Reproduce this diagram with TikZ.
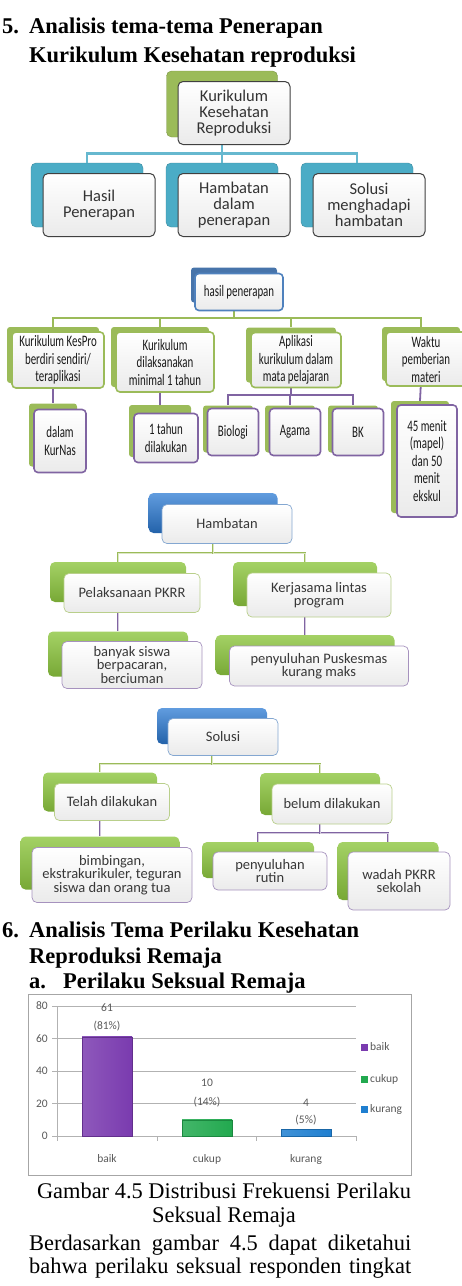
\documentclass[tikz,border=0pt]{standalone}
\usepackage{fontspec}
\setmainfont{Liberation Serif}
\newfontfamily\boxfont{Carlito}
\newfontfamily\narrowfont[FakeStretch=0.68]{Carlito}

\definecolor{olivegreen}{HTML}{9BBB59}
\definecolor{skyteal}{HTML}{4BACC6}
\definecolor{steelblue}{HTML}{4F81BD}
\definecolor{lilac}{HTML}{8064A2}
\definecolor{brightblue}{HTML}{2C7BD4}
\definecolor{limegreen}{HTML}{8DC63F}
\definecolor{barpurple}{HTML}{7A3BAF}
\definecolor{bargreen}{HTML}{22A94F}
\definecolor{barblue}{HTML}{1F7FD0}

\begin{document}
\begin{tikzpicture}[x=1pt,y=-1pt]

	\tikzstyle heading=[anchor=base west, inner sep=0pt, font=\fontsize{22.5}{27}\selectfont\bfseries];
	\tikzstyle caption text=[anchor=base, inner sep=0pt, font=\fontsize{22.4}{24}\selectfont];
	\tikzstyle box=[rectangle, rounded corners=5pt, inner sep=1pt, align=center];
	\tikzstyle sheet=[box, top color=white, bottom color=black!8];
	\tikzstyle t1 back=[box, fill=skyteal, draw=skyteal!80!black, minimum width=112pt, minimum height=64pt];
	\tikzstyle t1 front=[sheet, draw=black!75, line width=1pt, minimum width=112pt, minimum height=63pt, text=black!80, font=\boxfont\fontsize{16.5}{16}\selectfont];
	\tikzstyle t1 link=[draw=skyteal!85!white, line width=2.6pt];
	\tikzstyle t2 back=[box, rounded corners=3pt, fill=olivegreen];
	\tikzstyle t2 front=[sheet, rounded corners=4pt, line width=1.6pt, text=black!90, font=\narrowfont\fontsize{16}{17.5}\selectfont];
	\tikzstyle t2 link=[line width=1.8pt];
	\tikzstyle t3 back=[box, top color=limegreen!80!white, bottom color=limegreen!85!black];
	\tikzstyle t3 front=[sheet, line width=0.7pt, text=black!78, font=\boxfont\fontsize{14.5}{13.5}\selectfont];
	\tikzstyle t3 link=[line width=0.6pt, double distance=0.9pt];
	\tikzstyle chart text=[inner sep=0pt, text=black!65, font=\boxfont\fontsize{11.5}{12}\selectfont];
	\tikzstyle grid line=[draw=black!30, line width=0.6pt];

	\useasboundingbox (0,0) rectangle (462,1286);

	% section 5
	\node[heading] (h5n) at (2,33) {5.};
	\node[heading] (h5a) at (29,33) {Analisis tema-tema Penerapan};
	\node[heading] (h5b) at (29,62) {Kurikulum Kesehatan reproduksi};

	% tree 1
	\node[t1 back, fill=olivegreen, draw=olivegreen!80!black, minimum width=111pt, minimum height=66pt] (kkr0) at (222,104) {};
	\foreach \n/\x in {hsl/87,hmb/222,sol/357}
		\node[t1 back] (\n0) at (\x,195) {};
	\foreach \n in {hsl,hmb,sol}
		\draw[t1 link] (kkr0.south) -- ++(0,16) -| (\n0.north);
	\node[t1 front] (kkr) at ([shift={(12,9)}]kkr0) {Kurikulum\\Kesehatan\\Reproduksi};
	\foreach \n/\t in {hsl/{Hasil\\Penerapan},hmb/{Hambatan\\dalam\\penerapan},sol/{Solusi\\menghadapi\\hambatan}}
		\node[t1 front] (\n) at ([shift={(12,10)}]\n0) {\t};

	% tree 2
	\node[t2 back, fill=steelblue!90!black, minimum width=86pt, minimum height=35pt] (hpn0) at (234,285) {};
	\foreach \n/\x/\y/\w/\h in {kes/53/355/92/56,lak/160/357/98/60,apl/291/355/90/55,wkt/421/354/78/54}
		\node[t2 back, minimum width=\w pt, minimum height=\h pt] (\n0) at (\x,\y) {};
	\node[t2 back, minimum width=48pt, minimum height=63pt] (kns0) at (53,435) {};
	\node[t2 back, minimum width=62pt, minimum height=52pt] (thn0) at (160,431) {};
	\foreach \n/\x in {bio/228,aga/290,bkk/353}
		\node[t2 back, minimum width=50pt, minimum height=47pt] (\n0) at (\x,429) {};
	\node[t2 back, minimum width=58pt, minimum height=112pt] (mnt0) at (420,457) {};

	\foreach \n in {kes,lak,apl,wkt}
		\draw[t2 link, olivegreen] (hpn0.south) -- ++(0,15) -| (\n0.north);
	\draw[t2 link, lilac] (kes0.south) -- (kns0.north);
	\draw[t2 link, lilac] (lak0.south) -- (thn0.north);
	\foreach \n in {bio,aga,bkk}
		\draw[t2 link, lilac] (apl0.south) -- ++(0,12) -| (\n0.north);
	\draw[t2 link, lilac] (wkt0.south) -- (mnt0.north);

	\node[t2 front, draw=steelblue, minimum width=88pt, minimum height=37pt] (hpn) at ([shift={(5,7)}]hpn0) {hasil penerapan};
	\foreach \n/\w/\h/\t in {kes/92/56/{Kurikulum KesPro\\berdiri sendiri/\\teraplikasi},lak/98/60/{Kurikulum\\dilaksanakan\\minimal 1 tahun},apl/90/55/{Aplikasi\\kurikulum dalam\\mata pelajaran},wkt/80/54/{Waktu\\pemberian\\materi}}
		\node[t2 front, draw=olivegreen, minimum width=\w pt, minimum height=\h pt] (\n) at ([shift={(5,5)}]\n0) {\t};
	\node[t2 front, draw=lilac, minimum width=52pt, minimum height=63pt] (kns) at ([shift={(7,6)}]kns0) {dalam\\KurNas};
	\node[t2 front, draw=lilac, minimum width=64pt, minimum height=49pt] (thn) at ([shift={(6,7)}]thn0) {1 tahun\\dilakukan};
	\foreach \n/\t in {bio/Biologi,aga/Agama,bkk/BK}
		\node[t2 front, draw=lilac, minimum width=51pt, minimum height=47pt] (\n) at ([shift={(5,3)}]\n0) {\t};
	\node[t2 front, draw=lilac, minimum width=60pt, minimum height=112pt] (mnt) at ([shift={(7,4)}]mnt0) {45 menit\\(mapel)\\dan 50\\menit\\ekskul};

	% tree 3
	\node[t3 back, top color=brightblue!75!white, bottom color=brightblue!80!black, minimum width=129pt, minimum height=40pt] (hbt0) at (213,513) {};
	\node[t3 back, minimum width=136pt, minimum height=40pt] (pkr0) at (118,582) {};
	\node[t3 back, minimum width=144pt, minimum height=44pt] (kls0) at (305,584) {};
	\node[t3 back, minimum width=140pt, minimum height=45pt] (bsw0) at (118,654) {};
	\node[t3 back, minimum width=179pt, minimum height=40pt] (pks0) at (305,655) {};

	\foreach \n in {pkr,kls}
		\draw[t3 link, olivegreen, double=olivegreen!35!white] (hbt0.south) -- ++(0,20) -| (\n0.north);
	\draw[t3 link, lilac, double=lilac!35!white] (pkr0.south) -- (bsw0.north);
	\draw[t3 link, lilac, double=lilac!35!white] (kls0.south) -- (pks0.north);

	\node[t3 front, draw=steelblue!70!white, minimum width=130pt, minimum height=39pt] (hbt) at ([shift={(14,11)}]hbt0) {Hambatan};
	\node[t3 front, draw=olivegreen!70!white, minimum width=136pt, minimum height=39pt] (pkr) at ([shift={(14,11)}]pkr0) {Pelaksanaan PKRR};
	\node[t3 front, draw=olivegreen!70!white, minimum width=144pt, minimum height=44pt] (kls) at ([shift={(14,11)}]kls0) {Kerjasama lintas\\program};
	\node[t3 front, draw=lilac!70!white, minimum width=140pt, minimum height=47pt] (bsw) at ([shift={(14,11)}]bsw0) {banyak siswa\\berpacaran,\\berciuman};
	\node[t3 front, draw=lilac!70!white, minimum width=179pt, minimum height=40pt] (pks) at ([shift={(14,11)}]pks0) {penyuluhan Puskesmas\\kurang maks};

	% tree 4
	\node[t3 back, top color=brightblue!75!white, bottom color=brightblue!80!black, minimum width=110pt, minimum height=36pt] (slu0) at (212,726) {};
	\node[t3 back, minimum width=114pt, minimum height=39pt] (tdl0) at (100,792) {};
	\node[t3 back, minimum width=120pt, minimum height=42pt] (bdl0) at (320,794) {};
	\node[t3 back, minimum width=159pt, minimum height=53pt] (bim0) at (100,863) {};
	\node[t3 back, minimum width=112pt, minimum height=36pt] (rtn0) at (258,860) {};
	\node[t3 back, minimum width=101pt, minimum height=58pt] (wdh0) at (388,871) {};

	\foreach \n in {tdl,bdl}
		\draw[t3 link, olivegreen, double=olivegreen!35!white] (slu0.south) -- ++(0,20) -| (\n0.north);
	\draw[t3 link, lilac, double=lilac!35!white] (tdl0.south) -- (bim0.north);
	\foreach \n in {rtn,wdh}
		\draw[t3 link, lilac, double=lilac!35!white] (bdl0.south) -- ++(0,18) -| (\n0.north);

	\node[t3 front, draw=steelblue!70!white, minimum width=110pt, minimum height=37pt] (slu) at ([shift={(11,11)}]slu0) {Solusi};
	\node[t3 front, draw=olivegreen!70!white, minimum width=115pt, minimum height=37pt] (tdl) at ([shift={(12,10)}]tdl0) {Telah dilakukan};
	\node[t3 front, draw=olivegreen!70!white, minimum width=120pt, minimum height=40pt] (bdl) at ([shift={(12,10)}]bdl0) {belum dilakukan};
	\node[t3 front, draw=lilac!70!white, minimum width=160pt, minimum height=55pt] (bim) at ([shift={(12,12)}]bim0) {bimbingan,\\ekstrakurikuler, teguran\\siswa dan orang tua};
	\node[t3 front, draw=lilac!70!white, minimum width=114pt, minimum height=38pt] (rtn) at ([shift={(12,11)}]rtn0) {penyuluhan\\rutin};
	\node[t3 front, draw=lilac!70!white, minimum width=102pt, minimum height=58pt] (wdh) at ([shift={(11,10)}]wdh0) {wadah PKRR\\sekolah};

	% section 6
	\node[heading] (h6n) at (2,937) {6.};
	\node[heading] (h6a) at (29,937) {Analisis Tema Perilaku Kesehatan};
	\node[heading] (h6b) at (29,963) {Reproduksi Remaja};
	\node[heading] (h6c) at (29,988) {a.};
	\node[heading] (h6d) at (63,988) {Perilaku Seksual Remaja};

	% chart
	\draw[draw=black!35, line width=0.8pt] (28,994) rectangle (411,1175);
	\foreach \v in {0,20,...,80}
	{
		\draw[grid line] (52,{1136-1.625*\v}) -- (356,{1136-1.625*\v});
		\node[chart text, anchor=east] (y\v) at (48,{1136-1.625*\v}) {\v};
	}
	\draw[grid line] (57,1006) -- (57,1136);
	\foreach \x in {57,157,256,356}
		\draw[grid line] (\x,1136) -- (\x,1141);
	\foreach \x/\v/\c in {107/61/barpurple,207/10/bargreen,306/4/barblue}
		\draw[draw=\c!80!black, line width=0.4pt, left color=\c!85!white, right color=\c] (\x-25,1136) rectangle (\x+25,{1136-1.625*\v});
	\foreach \x/\v/\p/\ya/\yb in {107/61/81/1008/1026,207/10/14/1083/1102,306/4/5/1103/1120}
	{
		\node[chart text] (n\v) at (\x,\ya) {\v};
		\node[chart text] (p\v) at (\x,\yb) {(\p\%)};
	}
	\foreach \x/\t in {107/baik,207/cukup,306/kurang}
		\node[chart text] (c\t) at (\x,1159) {\t};
	\foreach \y/\c/\t in {1047/barpurple/baik,1079/bargreen/cukup,1109/barblue/kurang}
	{
		\fill[\c] (361,\y-3.5) rectangle (368,\y+3.5);
		\node[chart text, anchor=west] (l\t) at (370,\y) {\t};
	}

	% caption and text
	\node[caption text] (cap1) at (224,1198) {Gambar 4.5 Distribusi Frekuensi Perilaku};
	\node[caption text] (cap2) at (224,1222) {Seksual Remaja};
	\node[caption text, anchor=base west] (par1) at (29,1250) {\makebox[382pt][s]{Berdasarkan gambar 4.5 dapat diketahui}};
	\node[caption text, anchor=base west] (par2) at (29,1273) {\makebox[382pt][s]{bahwa perilaku seksual responden tingkat}};

\end{tikzpicture}
\end{document}
